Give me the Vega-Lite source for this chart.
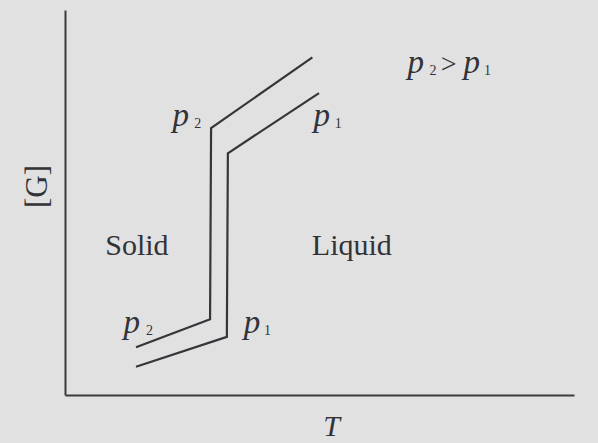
{
  "$schema": "https://vega.github.io/schema/vega-lite/v6.json",
  "width": 509,
  "height": 385,
  "autosize": {"type": "none"},
  "padding": {"left": 65, "top": 10, "right": 24, "bottom": 48},
  "background": "#e2e1e2",
  "config": {
    "view": {"stroke": null},
    "font": "Liberation Serif"
  },
  "datasets": {
    "curves": [
      {"pressure": "p2", "step": 1, "T": 13.95, "G": 12.4},
      {"pressure": "p2", "step": 2, "T": 28.5, "G": 19.7},
      {"pressure": "p2", "step": 3, "T": 28.7, "G": 69.3},
      {"pressure": "p2", "step": 4, "T": 48.6, "G": 87.7},
      {"pressure": "p1", "step": 1, "T": 13.95, "G": 7.35},
      {"pressure": "p1", "step": 2, "T": 31.8, "G": 15.1},
      {"pressure": "p1", "step": 3, "T": 32.0, "G": 62.8},
      {"pressure": "p1", "step": 4, "T": 49.9, "G": 78.4}
    ],
    "labels": [
      {"role": "var", "text": "p", "T": 21.1, "G": 69.9},
      {"role": "sub", "text": "2", "T": 25.4, "G": 69.4},
      {"role": "var", "text": "p", "T": 48.8, "G": 69.9},
      {"role": "sub", "text": "1", "T": 53.0, "G": 69.4},
      {"role": "var", "text": "p", "T": 67.3, "G": 83.6},
      {"role": "sub", "text": "2", "T": 71.6, "G": 83.1},
      {"role": "op", "text": ">", "T": 73.8, "G": 83.6},
      {"role": "var", "text": "p", "T": 78.3, "G": 83.6},
      {"role": "sub", "text": "1", "T": 82.3, "G": 83.1},
      {"role": "var", "text": "p", "T": 11.5, "G": 16.1},
      {"role": "sub", "text": "2", "T": 15.9, "G": 15.6},
      {"role": "var", "text": "p", "T": 35.1, "G": 16.1},
      {"role": "sub", "text": "1", "T": 39.1, "G": 15.6},
      {"role": "word", "text": "Solid", "T": 7.9, "G": 36.4},
      {"role": "word", "text": "Liquid", "T": 48.5, "G": 36.4}
    ]
  },
  "encoding": {
    "x": {
      "field": "T",
      "type": "quantitative",
      "scale": {"domain": [0, 100], "nice": false, "zero": false},
      "axis": {
        "title": "T",
        "domain": true,
        "domainColor": "#3a3a3e",
        "domainWidth": 2,
        "ticks": false,
        "labels": false,
        "grid": false,
        "titleFont": "Liberation Serif",
        "titleFontStyle": "italic",
        "titleFontWeight": "normal",
        "titleFontSize": 30,
        "titleColor": "#333337",
        "titleX": 266,
        "titleY": 40,
        "titleAlign": "center",
        "titleBaseline": "alphabetic"
      }
    },
    "y": {
      "field": "G",
      "type": "quantitative",
      "scale": {"domain": [0, 100], "nice": false, "zero": false},
      "axis": {
        "title": "[G]",
        "domain": true,
        "domainColor": "#3a3a3e",
        "domainWidth": 2,
        "ticks": false,
        "labels": false,
        "grid": false,
        "titleFont": "Liberation Serif",
        "titleFontWeight": "normal",
        "titleFontSize": 31,
        "titleColor": "#333337",
        "titleAngle": 270,
        "titleX": -28,
        "titleY": 176,
        "titleAlign": "center",
        "titleBaseline": "middle"
      }
    }
  },
  "layer": [
    {
      "data": {"name": "curves"},
      "mark": {"type": "line", "color": "#35353a", "strokeWidth": 2.2, "strokeJoin": "miter"},
      "encoding": {
        "detail": {"field": "pressure"},
        "order": {"field": "step", "type": "quantitative"}
      }
    },
    {
      "data": {"name": "labels"},
      "transform": [{"filter": "datum.role === 'var'"}],
      "mark": {"type": "text", "align": "left", "baseline": "alphabetic", "font": "Liberation Serif", "fontStyle": "italic", "fontSize": 33, "color": "#333337"},
      "encoding": {"text": {"field": "text"}}
    },
    {
      "data": {"name": "labels"},
      "transform": [{"filter": "datum.role === 'sub'"}],
      "mark": {"type": "text", "align": "left", "baseline": "alphabetic", "font": "Liberation Serif", "fontSize": 14, "color": "#333337"},
      "encoding": {"text": {"field": "text"}}
    },
    {
      "data": {"name": "labels"},
      "transform": [{"filter": "datum.role === 'op'"}],
      "mark": {"type": "text", "align": "left", "baseline": "alphabetic", "font": "Liberation Serif", "fontSize": 28, "color": "#333337"},
      "encoding": {"text": {"field": "text"}}
    },
    {
      "data": {"name": "labels"},
      "transform": [{"filter": "datum.role === 'word'"}],
      "mark": {"type": "text", "align": "left", "baseline": "alphabetic", "font": "Liberation Serif", "fontSize": 30, "color": "#333337"},
      "encoding": {"text": {"field": "text"}}
    }
  ]
}
